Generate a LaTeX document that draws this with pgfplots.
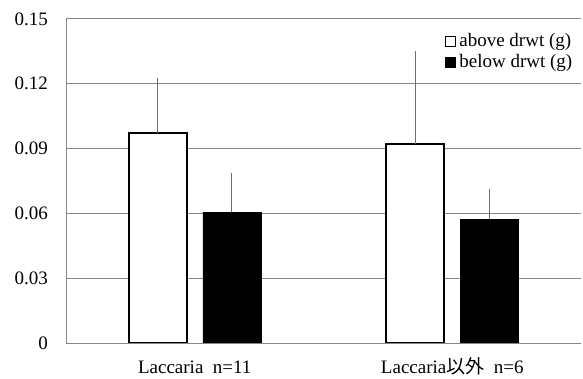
\documentclass[border=0pt]{standalone}
\usepackage{pgfplots}
\pgfplotsset{compat=1.18}
\usepackage{fontspec}
\setmainfont{Liberation Serif}
\newfontfamily\cjk{Noto Sans CJK JP}
\definecolor{gridgray}{RGB}{134,134,134}
\definecolor{errgray}{RGB}{110,110,110}
\begin{document}
\fontsize{19bp}{22bp}\selectfont
\begin{tikzpicture}
\begin{axis}[
  scale only axis,
  width=515bp, height=324bp,
  xmin=-0.5, xmax=1.5,
  ymin=0, ymax=0.15,
  axis x line=bottom, axis y line=left,
  axis line style={-, draw=gridgray, line width=1pt},
  ymajorgrids, grid style={gridgray, line width=1pt},
  major tick length=0pt,
  xtick={0,1},
  xticklabels={Laccaria\ \ n=11, Laccaria{\cjk 以外}\ \ n=6},
  ytick={0,0.03,0.06,0.09,0.12,0.15},
  yticklabels={0,0.03,0.06,0.09,0.12,0.15},
  yticklabel style={inner sep=0pt, xshift=-18bp},
  xticklabel style={inner sep=0pt, anchor=base, yshift=-30bp},
  ybar=16bp, bar width=58bp,
  legend style={at={(rel axis cs:0.997,0.965)}, anchor=north east, draw=none, fill=none,
    row sep=2.5bp, nodes={inner xsep=4bp, inner ysep=1bp}, cells={anchor=west}},
  legend image code/.code={\draw[#1, line width=0.6pt] (0bp,-5bp) rectangle (10bp,5bp);},
  error bars/y dir=plus, error bars/y explicit,
  error bars/error mark=none,
  error bars/error bar style={errgray, line width=1pt},
]
\addplot[draw=black, fill=white, line width=1.6pt] coordinates {(0,0.0972) +- (0,0.0255) (1,0.0921) +- (0,0.0431)};
\addplot[draw=black, fill=black, line width=0.5pt] coordinates {(0,0.0606) +- (0,0.0181) (1,0.0573) +- (0,0.0139)};
\legend{above drwt (g), below drwt (g)}
\end{axis}
\pgfresetboundingbox
\path[use as bounding box] (-66bp,-36bp) rectangle (517bp,343bp);
\end{tikzpicture}
\end{document}
